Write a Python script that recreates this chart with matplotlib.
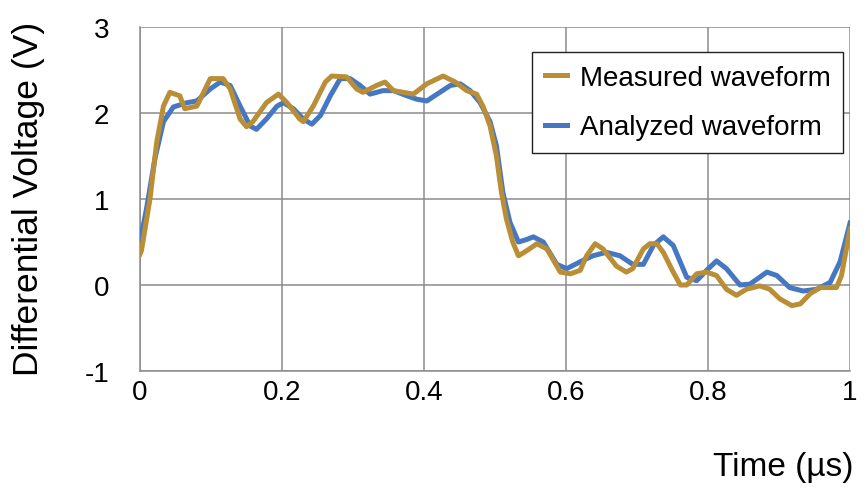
import matplotlib.pyplot as plt

# Measured waveform (gold)
t_meas = [0.0, 0.002, 0.014, 0.0235, 0.033, 0.042, 0.056, 0.063, 0.08, 0.099, 0.117,
          0.127, 0.141, 0.15, 0.159, 0.178, 0.195, 0.207, 0.225, 0.23, 0.244, 0.261,
          0.27, 0.291, 0.305, 0.314, 0.333, 0.345, 0.357, 0.371, 0.385, 0.404, 0.427,
          0.444, 0.46, 0.474, 0.483, 0.493, 0.502, 0.509, 0.516, 0.525, 0.533, 0.545,
          0.559, 0.573, 0.592, 0.606, 0.62, 0.629, 0.641, 0.652, 0.671, 0.685, 0.694,
          0.709, 0.718, 0.728, 0.737, 0.751, 0.761, 0.77, 0.784, 0.798, 0.812, 0.826,
          0.84, 0.854, 0.873, 0.887, 0.901, 0.918, 0.93, 0.944, 0.958, 0.981, 0.988, 1.0]
v_meas = [0.36, 0.40, 1.0, 1.66, 2.08, 2.24, 2.2, 2.05, 2.08, 2.4, 2.4,
          2.28, 1.93, 1.84, 1.9, 2.12, 2.22, 2.12, 1.93, 1.9, 2.08, 2.36,
          2.43, 2.42, 2.28, 2.24, 2.32, 2.36, 2.26, 2.24, 2.22, 2.34, 2.43,
          2.36, 2.26, 2.22, 2.08, 1.85, 1.5, 1.08, 0.77, 0.5, 0.34, 0.4,
          0.48, 0.42, 0.15, 0.13, 0.17, 0.34, 0.48, 0.42, 0.22, 0.15, 0.19,
          0.42, 0.48, 0.48, 0.38, 0.15, 0.0, 0.0, 0.13, 0.15, 0.11, -0.05,
          -0.12, -0.05, -0.01, -0.05, -0.16, -0.24, -0.22, -0.1, -0.03, -0.03, 0.11, 0.65]

# Analyzed waveform (blue)
t_anal = [0.0, 0.009, 0.021, 0.033, 0.047, 0.066, 0.08, 0.099, 0.113, 0.127, 0.141,
          0.155, 0.164, 0.178, 0.193, 0.202, 0.216, 0.23, 0.242, 0.254, 0.268, 0.282,
          0.296, 0.31, 0.324, 0.342, 0.357, 0.376, 0.39, 0.404, 0.413, 0.437, 0.451,
          0.465, 0.479, 0.493, 0.502, 0.511, 0.521, 0.533, 0.545, 0.554, 0.568, 0.587,
          0.601, 0.62, 0.638, 0.657, 0.676, 0.694, 0.709, 0.723, 0.737, 0.751, 0.77,
          0.784, 0.798, 0.812, 0.826, 0.845, 0.859, 0.883, 0.897, 0.915, 0.934, 0.953,
          0.972, 0.986, 1.0]
v_anal = [0.5, 0.88, 1.47, 1.9, 2.07, 2.12, 2.14, 2.28, 2.36, 2.32, 2.08,
          1.85, 1.81, 1.93, 2.08, 2.12, 2.05, 1.93, 1.87, 1.97, 2.2, 2.4,
          2.4, 2.32, 2.22, 2.26, 2.26, 2.2, 2.16, 2.14, 2.19, 2.32, 2.34,
          2.26, 2.12, 1.9, 1.62, 1.08, 0.73, 0.5, 0.53, 0.56, 0.5, 0.24,
          0.19, 0.27, 0.34, 0.38, 0.34, 0.24, 0.24, 0.46, 0.56, 0.46, 0.09,
          0.05, 0.17, 0.28, 0.19, 0.0, 0.01, 0.15, 0.11, -0.03, -0.07, -0.05,
          0.03, 0.27, 0.72]

x_ticks = [0, 0.2, 0.4, 0.6, 0.8, 1]
y_ticks = [-1, 0, 1, 2, 3]

gold = '#B98E36'
blue = '#4677C3'
grid_col = '#8C8C8C'
font = 'Liberation Sans'

fig = plt.figure(figsize=(8.67, 4.89), dpi=100)
ax = fig.add_axes([0.1615, 0.2393, 0.8189, 0.7034])

ax.plot(t_anal, v_anal, color=blue, lw=3.6, label='Analyzed waveform', zorder=3)
ax.plot(t_meas, v_meas, color=gold, lw=3.6, label='Measured waveform', zorder=4)

ax.set_xlim(0, 1)
ax.set_ylim(-1, 3)
ax.set_xticks(x_ticks)
ax.set_yticks(y_ticks)
ax.set_xticklabels(['0', '0.2', '0.4', '0.6', '0.8', '1'], family=font, fontsize=20)
ax.set_yticklabels(['-1', '0', '1', '2', '3'], family=font, fontsize=20)
ax.tick_params(axis='x', length=0, pad=6)
ax.tick_params(axis='y', length=0, pad=22)

ax.grid(True, color=grid_col, lw=1.1)
ax.set_axisbelow(True)
for s in ['top', 'right']:
    ax.spines[s].set_visible(False)
for s in ['left', 'bottom']:
    ax.spines[s].set_color(grid_col)
    ax.spines[s].set_linewidth(1.1)

fig.text(0.033, 0.593, 'Differential Voltage (V)', rotation=90, ha='center', va='center',
         family=font, fontsize=25.5)
fig.text(0.984, 0.043, 'Time (µs)', ha='right', va='center', family=font, fontsize=24)

h, l = ax.get_legend_handles_labels()
leg = ax.legend(h[::-1], l[::-1], loc='upper right', bbox_to_anchor=(0.990, 0.927),
                borderaxespad=0, fancybox=False, framealpha=1, edgecolor='#222222',
                prop={'family': font, 'size': 20}, handlelength=0.8,
                handletextpad=0.45, labelspacing=0.85, borderpad=0.45)
leg.get_frame().set_linewidth(1.0)

fig.savefig('out.png', dpi=100)
